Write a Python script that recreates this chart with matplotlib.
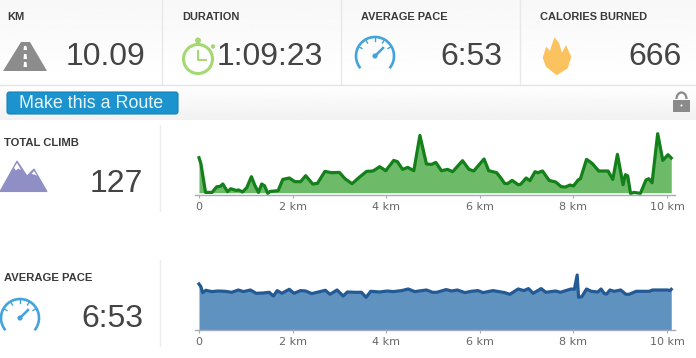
import numpy as np
import matplotlib
matplotlib.use('Agg')
import matplotlib.pyplot as plt
from matplotlib.patches import Polygon, Circle, Arc, FancyBboxPatch, Rectangle

plt.rcParams['font.family'] = ['Liberation Sans', 'DejaVu Sans']

# header stats
stat_labels = ['KM', 'DURATION', 'AVERAGE PACE', 'CALORIES BURNED']
stat_values = ['10.09', '1:09:23', '6:53', '666']

# elevation profile
climb_km = [0, .04, .14, .28, .38, .45, .51, .61, .68, .79, .85, .93, 1.02, 1.12, 1.19, 1.27, 1.34, 1.40, 1.47, 1.52,
            1.69, 1.79, 1.93, 2.05, 2.17, 2.28, 2.43, 2.53, 2.69, 2.83, 3.0, 3.12, 3.27, 3.44, 3.58, 3.72, 3.86, 3.99,
            4.16, 4.24, 4.35, 4.46, 4.59, 4.72, 4.86, 4.97, 5.06, 5.18, 5.31, 5.42, 5.63, 5.77, 5.87, 6.09, 6.19, 6.36,
            6.44, 6.53, 6.59, 6.69, 6.82, 6.87, 6.99, 7.07, 7.18, 7.24, 7.34, 7.48, 7.62, 7.74, 7.83, 7.93, 8.0, 8.10,
            8.15, 8.28, 8.40, 8.54, 8.74, 8.84, 8.94, 9.06, 9.11, 9.16, 9.22, 9.30, 9.43, 9.55, 9.61, 9.68, 9.80, 9.91,
            10.02, 10.09]
climb_val = [35, 29.3, .3, .3, 6, 6.3, 8.7, 1, 4, 2.3, 2.7, .7, 5, 16, 7.7, .3, 8.7, 7, -.7, 1.3,
             2, 13.3, 14.7, 11, 11, 17, 8.7, 9.3, 21.3, 20, 20.3, 14, 9, 16, 21.3, 21.7, 26, 22,
             32.3, 31, 23.3, 25.3, 22, 57.3, 28.7, 28.3, 30.3, 22, 23.3, 21, 32, 23.3, 21.7, 33.7, 22, 20,
             15.3, 9.3, 9, 12.3, 8, 8.3, 14.7, 12, 21, 20, 21.7, 12.3, 10.7, 6, 5.7, 7.7, 6.7, 12.7,
             14, 33.3, 29.3, 21.7, 21.7, 13.3, 38.3, 8, 18, 16.7, -.7, .3, -.7, 12.7, 14, 10, 59, 32.3,
             38, 34.7]

# pace profile
pace_km = [0, .04, .08, .15, .27, .41, .56, .70, .84, .95, 1.10, 1.22, 1.37, 1.50, 1.59, 1.67, 1.77, 1.93, 2.03, 2.17,
           2.28, 2.41, 2.55, 2.70, 2.80, 2.95, 3.08, 3.17, 3.33, 3.47, 3.57, 3.67, 3.86, 4.02, 4.15, 4.33, 4.47, 4.61,
           4.86, 4.99, 5.08, 5.28, 5.40, 5.52, 5.68, 5.82, 5.96, 6.07, 6.28, 6.53, 6.64, 6.82, 6.94, 7.04, 7.14, 7.31,
           7.41, 7.62, 7.72, 7.95, 8.02, 8.08, 8.11, 8.18, 8.28, 8.38, 8.52, 8.59, 8.66, 8.71, 8.78, 8.87, 9.01, 9.12,
           9.19, 9.34, 9.62, 9.69, 10.01, 10.06, 10.09]
pace_val = [46.3, 43.7, 37.7, 40, 38.7, 39.3, 39, 38, 40.3, 38.7, 40.3, 37, 37.3, 38, 34.3, 39.7, 37, 41, 37, 39.7,
            39.3, 36.7, 38.3, 40, 36, 40.3, 34.3, 38.3, 38, 38, 33, 39, 38.3, 39.3, 38.7, 39.7, 41.3, 38.7,
            40.3, 38, 38, 40.7, 39.3, 40.3, 37.7, 39, 39.7, 37.7, 39.7, 37.7, 36, 41.3, 39.7, 41.7, 37, 41.7,
            38, 39.3, 38, 41.3, 41, 55.3, 33, 33.7, 41.3, 39, 38.3, 41.3, 36.7, 36.3, 40.3, 39, 40.3, 36,
            36, 39, 39, 40.3, 40.3, 39.7, 41]

tick_km = [0, 2, 4, 6, 8, 10]
tick_labels = ['0', '2 km', '4 km', '6 km', '8 km', '10 km']

W, H = 696, 358
fig = plt.figure(figsize=(W / 100, H / 100), dpi=100, facecolor='white')

# page layer, in pixels
bg = fig.add_axes([0, 0, 1, 1])
bg.axis('off')
bg.imshow(np.linspace(0.97, 1, 50)[:, None], extent=[0, W, 84, 0], cmap='gray', vmin=0, vmax=1, aspect='auto')
bg.imshow(np.linspace(1, 0.945, 50)[:, None], extent=[0, W, 120, 85], cmap='gray', vmin=0, vmax=1, aspect='auto')
bg.set_xlim(0, W)
bg.set_ylim(H, 0)
bg.plot([0, W], [84.5, 84.5], color='#e4e4e4', lw=1)
for x in [161.5, 340.5, 519.5]:
    bg.plot([x, x], [0, 84], color='#e8e8e8', lw=1)
for y0, y1 in [(125, 211), (260, 346)]:
    bg.plot([159.5, 159.5], [y0, y1], color='#ececec', lw=1)

dark = '#444444'
label_x = [7, 182.5, 361, 539.5]
value_x = [145, 323, 502, 682]
for t, v, lx, vx in zip(stat_labels, stat_values, label_x, value_x):
    bg.text(lx, 16.5, t, fontsize=7.9, fontweight='bold', color='#3a3a3a', ha='left', va='center')
    bg.text(vx, 57, v, fontsize=23, color=dark, ha='right', va='center')

bg.text(4, 143, 'TOTAL CLIMB', fontsize=8.1, fontweight='bold', color='#3a3a3a', va='center')
bg.text(143.5, 183.5, '127', fontsize=23, color=dark, ha='right', va='center')
bg.text(4, 278, 'AVERAGE PACE', fontsize=8.1, fontweight='bold', color='#3a3a3a', va='center')
bg.text(143, 319, '6:53', fontsize=23, color=dark, ha='right', va='center')

# button
bg.add_patch(FancyBboxPatch((8, 93), 169, 20, boxstyle='round,pad=1,rounding_size=2.5', fc='#1b93cf', ec='#1680b8', lw=0.8))
bg.text(91.5, 103, 'Make this a Route', fontsize=12.9, color='#e6f6fc', ha='center', va='center')

# road
bg.add_patch(Polygon([(3, 71), (21, 42), (30, 42), (47, 71)], fc='#8c8c8c', ec='none'))
for y0, y1 in [(46, 50), (54, 59), (62, 67)]:
    bg.add_patch(Polygon([(24, y0), (26.5, y0), (27, y1), (23.5, y1)], fc='white', ec='none'))

# stopwatch
green = '#a5d873'
bg.add_patch(Circle((198, 59), 14.5, fc='none', ec=green, lw=2.2))
bg.plot([198, 198, 206], [51, 60, 60], color=green, lw=1.4)
bg.add_patch(Circle((198, 40.5), 3, fc=green, ec='none'))
bg.add_patch(Circle((213, 46.5), 2.2, fc=green, ec='none'))


def gauge(cx, cy):
    blue = '#44a3da'
    bg.add_patch(Arc((cx, cy), 38, 38, theta1=140, theta2=400, color=blue, lw=1.9))
    for a in [-150, -120, -90, -60, -30]:
        r = np.radians(a)
        bg.plot([cx + 19 * np.cos(r), cx + 15 * np.cos(r)], [cy + 19 * np.sin(r), cy + 15 * np.sin(r)], color=blue, lw=1)
    bg.plot([cx, cx + 8], [cy, cy - 8], color=blue, lw=1.8)
    bg.add_patch(Circle((cx, cy), 2.6, fc=blue, ec='none'))


gauge(375, 56)
gauge(20, 318)

# flame
bg.add_patch(Polygon([(556.7, 75.3), (546, 66.7), (542.7, 58), (546, 46.7), (550, 50.7), (554.3, 37.3), (559, 43),
                      (562, 52.7), (566, 45), (571.3, 56.7), (567.7, 68.3)], fc='#fbc35f', ec='none'))

# mountains
bg.add_patch(Polygon([(0, 191.5), (17, 161), (27, 176), (34, 169), (47, 191.5)], fc='#8f8fc6', ec='#8f8fc6', lw=0.8))
bg.add_patch(Polygon([(14, 168), (17, 163), (21, 170), (18, 168.5), (16, 170.5)], fc='white', ec='none'))
bg.add_patch(Polygon([(31.5, 174), (34, 171), (37, 175.5), (34, 174.5)], fc='white', ec='none'))

# lock
bg.add_patch(Rectangle((673, 100), 17, 12, fc='#8a8a8a', ec='none'))
bg.add_patch(Arc((681.5, 99), 10, 13, theta1=180, theta2=360, color='#8a8a8a', lw=1.6))
bg.add_patch(Circle((681.5, 105.5), 1, fc='white', ec='none'))
bg.set_xlim(0, W)
bg.set_ylim(H, 0)


def km_axes(y_top, y_bottom, ymin, ymax):
    ax = fig.add_axes([195 / W, 1 - y_bottom / H, 480 / W, (y_bottom - y_top) / H])
    ax.patch.set_alpha(0)
    ax.set_xlim(-0.085, 10.17)
    ax.set_ylim(ymin, ymax)
    for s in ['top', 'left', 'right']:
        ax.spines[s].set_visible(False)
    ax.spines['bottom'].set_color('#a4abc0')
    ax.spines['bottom'].set_linewidth(1)
    ax.set_yticks([])
    ax.set_xticks(tick_km)
    ax.set_xticklabels(tick_labels, family='DejaVu Sans')
    ax.tick_params(axis='x', length=2.5, width=0.8, color='#a4abc0', labelcolor='#666666', labelsize=8, pad=2)
    return ax


ax1 = km_axes(125, 195.3, -2.6, 67.7)
ax1.fill_between(climb_km, 0, np.clip(climb_val, 0, None), color='#6dbb68', lw=0)
ax1.plot(climb_km, climb_val, color='#13801a', lw=2.3, solid_joinstyle='round', clip_on=False)

ax2 = km_axes(265, 330.3, 0, 65.3)
ax2.fill_between(pace_km, 0, pace_val, color='#6092c0', lw=0)
ax2.plot(pace_km, pace_val, color='#235a96', lw=2.3, solid_joinstyle='round')

fig.savefig('out.png', dpi=100)
